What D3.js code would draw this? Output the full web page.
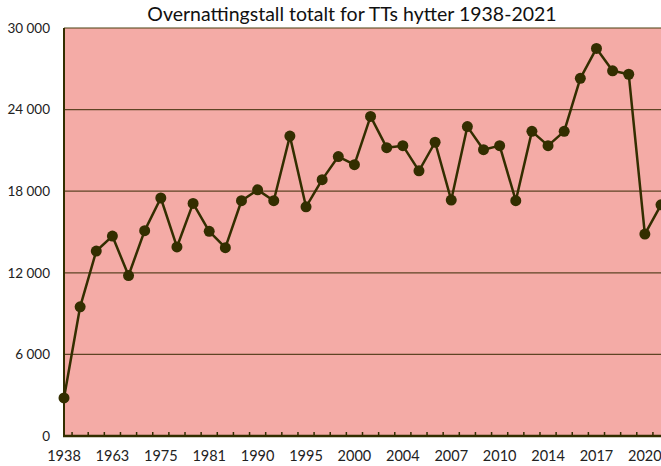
<!DOCTYPE html>
<html><head><meta charset="utf-8">
<script src="https://cdn.jsdelivr.net/npm/d3@7"></script>
<style>body{margin:0;background:#fff}svg{display:block}</style>
</head><body>
<div id="chart"></div>
<script>
const years = ["1938","1950","1958","1963","1966","1970","1975","1977","1979","1981","1984","1987","1990","1992","1993","1995","1997","1998","2000","2001","2002","2004","2005","2006","2007","2008","2009","2010","2011","2013","2014","2015","2016","2017","2018","2019","2020","2021"];
const values = [2800,9500,13600,14700,11800,15100,17500,13900,17100,15050,13850,17300,18100,17300,22050,16850,18850,20550,19950,23500,21200,21350,19500,21600,17350,22750,21050,21350,17300,22400,21350,22400,26300,28500,26850,26600,14850,17000];
const tickLabels = ["1938","1963","1975","1981","1990","1995","2000","2004","2007","2010","2014","2017","2020"];
const yTicks = [0,6000,12000,18000,24000,30000];
const title = "Overnattingstall totalt for TTs hytter 1938-2021";

const W = 661, H = 466;
const mLeft = 64, mTop = 28, mBottom = 436;
const step = 16.135;
const svg = d3.select("#chart").append("svg").attr("width", W).attr("height", H);

const x = d3.scalePoint().domain(d3.range(years.length)).range([mLeft, mLeft + step*(years.length-1)]);
const y = d3.scaleLinear().domain([0,30000]).range([mBottom, mTop]);

svg.append("rect").attr("x", mLeft).attr("y", mTop).attr("width", W - mLeft + 20).attr("height", mBottom - mTop).attr("fill", "#F4ABA6");

svg.append("g").selectAll("line").data(yTicks.filter(d => d > 0 && d < 30000)).join("line")
  .attr("x1", mLeft).attr("x2", W + 10).attr("y1", d => y(d)).attr("y2", d => y(d))
  .attr("stroke", "#5e4424").attr("stroke-width", 1.2);
svg.append("line").attr("x1", mLeft).attr("x2", W + 10).attr("y1", y(30000)).attr("y2", y(30000))
  .attr("stroke", "#4a4010").attr("stroke-width", 1.2);

svg.append("g").selectAll("text").data(yTicks).join("text")
  .attr("x", 50).attr("y", d => y(d)).attr("dy", "0.35em").attr("text-anchor", "end")
  .attr("font-family", "Lato, 'Open Sans', sans-serif").attr("font-size", 13.5).attr("fill", "#222")
  .text(d => d === 0 ? "0" : d3.format(",")(d).replace(/,/g, " "));

svg.append("g").selectAll("line").data(d3.range(years.length)).join("line")
  .attr("x1", i => x(i) + step/2).attr("x2", i => x(i) + step/2)
  .attr("y1", mBottom).attr("y2", mBottom - 4)
  .attr("stroke", "#332e00").attr("stroke-width", 1.5);

svg.append("line").attr("x1", mLeft).attr("x2", mLeft).attr("y1", mTop).attr("y2", mBottom + 1)
  .attr("stroke", "#332e00").attr("stroke-width", 2);
svg.append("line").attr("x1", mLeft - 1).attr("x2", W + 10).attr("y1", mBottom).attr("y2", mBottom)
  .attr("stroke", "#332e00").attr("stroke-width", 2.5);

const labelIdx = tickLabels.map((t, k) => k * 3);
svg.append("g").selectAll("text").data(labelIdx).join("text")
  .attr("x", i => x(i)).attr("y", 461).attr("text-anchor", "middle")
  .attr("font-family", "Lato, 'Open Sans', sans-serif").attr("font-size", 14.5).attr("fill", "#222")
  .text((i, k) => tickLabels[k]);

const line = d3.line().x((d, i) => x(i)).y(d => y(d));
svg.append("path").datum(values).attr("d", line).attr("fill", "none")
  .attr("stroke", "#332e00").attr("stroke-width", 2.5).attr("stroke-linejoin", "round");
svg.append("g").selectAll("circle").data(values).join("circle")
  .attr("cx", (d, i) => x(i)).attr("cy", d => y(d)).attr("r", 5.5).attr("fill", "#332e00");

svg.append("text").attr("x", 352).attr("y", 21).attr("text-anchor", "middle")
  .attr("font-family", "Lato, 'Open Sans', sans-serif").attr("font-size", 19.5).attr("fill", "#111")
  .text(title);
</script>
</body></html>
